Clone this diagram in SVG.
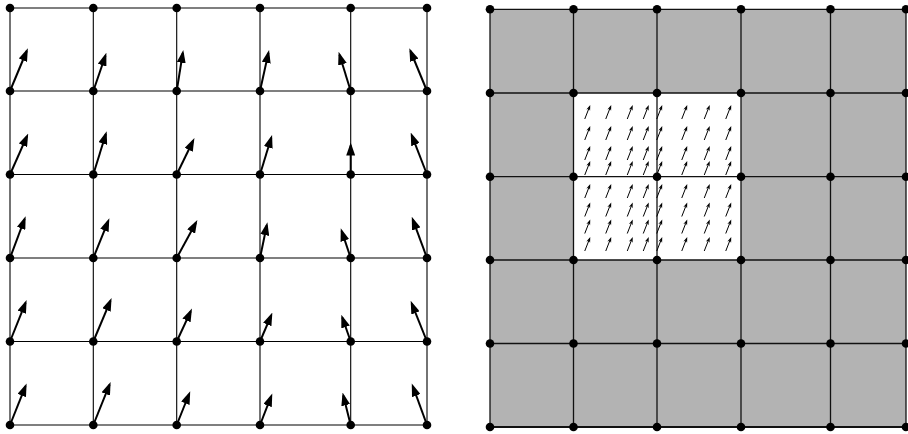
<svg xmlns="http://www.w3.org/2000/svg" xmlns:xlink="http://www.w3.org/1999/xlink" width="908" height="434" viewBox="0 0 908 434">
<style>
.gl{stroke:#000;stroke-width:1.1;fill:none}
.gr{stroke:#111;stroke-width:1.3;fill:none}
.nd{fill:#000}
.ar{stroke:#000;stroke-width:2;fill:none;marker-end:url(#ah)}
.sl{stroke:#000;stroke-width:1;fill:none}
</style>
<defs>
<marker id="ah" markerUnits="userSpaceOnUse" markerWidth="13" markerHeight="9" refX="10" refY="4.5" orient="auto">
<path d="M0,0 L13,4.5 L0,9 z" fill="#000"/>
</marker>
<g id="sa">
<line class="sl" x1="-2.75" y1="7" x2="1.29" y2="-3.28"/>
<path d="M2.75,-7 L2.6,-1.15 L1.29,-3.28 L-1.12,-2.61 z" fill="#000"/>
</g>
<circle id="dot" r="4.3" class="nd"/>
</defs>
<rect width="908" height="434" fill="#fff"/>

<!-- Right panel background -->
<rect x="490" y="9.3" width="416" height="417.7" fill="#b3b3b3"/>
<rect x="573.5" y="93" width="167.5" height="167" fill="#fff"/>

<g id="connectors">
<g id="left-grid">
<line class="gl" x1="10" y1="8" x2="10" y2="425"/>
<line class="gl" x1="93.3" y1="8" x2="93.3" y2="425"/>
<line class="gl" x1="176.7" y1="8" x2="176.7" y2="425"/>
<line class="gl" x1="260" y1="8" x2="260" y2="425"/>
<line class="gl" x1="350.7" y1="8" x2="350.7" y2="425"/>
<line class="gl" x1="427" y1="8" x2="427" y2="425"/>
<line class="gl" x1="10" y1="8" x2="427" y2="8"/>
<line class="gl" x1="10" y1="91" x2="427" y2="91"/>
<line class="gl" x1="10" y1="174.5" x2="427" y2="174.5"/>
<line class="gl" x1="10" y1="258" x2="427" y2="258"/>
<line class="gl" x1="10" y1="341.5" x2="427" y2="341.5"/>
<line class="gl" x1="10" y1="425" x2="427" y2="425"/>
</g>
<g id="right-grid">
<line class="gr" x1="490" y1="9.3" x2="490" y2="427"/>
<line class="gr" x1="573.5" y1="9.3" x2="573.5" y2="427"/>
<line class="gr" x1="657" y1="9.3" x2="657" y2="427"/>
<line class="gr" x1="741" y1="9.3" x2="741" y2="427"/>
<line class="gr" x1="830.5" y1="9.3" x2="830.5" y2="427"/>
<line class="gr" x1="906" y1="9.3" x2="906" y2="427"/>
<line class="gr" x1="490" y1="9.3" x2="906" y2="9.3"/>
<line class="gr" x1="490" y1="93" x2="906" y2="93"/>
<line class="gr" x1="490" y1="176.7" x2="906" y2="176.7"/>
<line class="gr" x1="490" y1="260" x2="906" y2="260"/>
<line class="gr" x1="490" y1="343.5" x2="906" y2="343.5"/>
<line class="gr" x1="490" y1="427" x2="906" y2="427" style="stroke-width:2"/>
</g>
</g>

<g id="vectors-left">
<line class="ar" x1="10" y1="91" x2="26.7" y2="51"/>
<line class="ar" x1="93.3" y1="91" x2="105.4" y2="55.7"/>
<line class="ar" x1="176.7" y1="91" x2="182.8" y2="52.9"/>
<line class="ar" x1="260" y1="91" x2="268.4" y2="52.9"/>
<line class="ar" x1="350.7" y1="91" x2="339.5" y2="54.7"/>
<line class="ar" x1="427" y1="91" x2="410.5" y2="51"/>

<line class="ar" x1="10" y1="174.5" x2="27" y2="136.2"/>
<line class="ar" x1="93.3" y1="174.5" x2="105.8" y2="134"/>
<line class="ar" x1="176.7" y1="174.5" x2="193.1" y2="140.8"/>
<line class="ar" x1="260" y1="174.5" x2="271.2" y2="137.8"/>
<line class="ar" x1="350.7" y1="174.5" x2="350.7" y2="145.5"/>
<line class="ar" x1="427" y1="174.5" x2="411.8" y2="135.3"/>

<line class="ar" x1="10" y1="258" x2="24.6" y2="219"/>
<line class="ar" x1="93.3" y1="258" x2="108.2" y2="221.1"/>
<line class="ar" x1="176.7" y1="258" x2="195.9" y2="222.7"/>
<line class="ar" x1="260" y1="258" x2="266.8" y2="225.2"/>
<line class="ar" x1="350.7" y1="258" x2="341.7" y2="231"/>
<line class="ar" x1="427" y1="258" x2="412.8" y2="219.6"/>

<line class="ar" x1="10" y1="341.5" x2="25.5" y2="302.9"/>
<line class="ar" x1="93.3" y1="341.5" x2="110.4" y2="300.8"/>
<line class="ar" x1="176.7" y1="341.5" x2="190.7" y2="311.3"/>
<line class="ar" x1="260" y1="341.5" x2="271.2" y2="315.3"/>
<line class="ar" x1="350.7" y1="341.5" x2="342.3" y2="317.5"/>
<line class="ar" x1="427" y1="341.5" x2="411.8" y2="303.6"/>

<line class="ar" x1="10" y1="425" x2="25.5" y2="386.2"/>
<line class="ar" x1="93.3" y1="425" x2="109.5" y2="384.7"/>
<line class="ar" x1="176.7" y1="425" x2="189.1" y2="394"/>
<line class="ar" x1="260" y1="425" x2="271.2" y2="396.2"/>
<line class="ar" x1="350.7" y1="425" x2="343.3" y2="395.5"/>
<line class="ar" x1="427" y1="425" x2="412.8" y2="386.2"/>
</g>

<g id="vectors-right">
<use href="#sa" x="587.5" y="112"/><use href="#sa" x="608.5" y="112"/><use href="#sa" x="630" y="112"/><use href="#sa" x="646" y="112"/><use href="#sa" x="659.5" y="112"/><use href="#sa" x="684.5" y="112"/><use href="#sa" x="707" y="112"/><use href="#sa" x="728.5" y="112"/>
<use href="#sa" x="587.5" y="133"/><use href="#sa" x="608.5" y="133"/><use href="#sa" x="630" y="133"/><use href="#sa" x="646" y="133"/><use href="#sa" x="659.5" y="133"/><use href="#sa" x="684.5" y="133"/><use href="#sa" x="707" y="133"/><use href="#sa" x="728.5" y="133"/>
<use href="#sa" x="587.5" y="153"/><use href="#sa" x="608.5" y="153"/><use href="#sa" x="630" y="153"/><use href="#sa" x="646" y="153"/><use href="#sa" x="659.5" y="153"/><use href="#sa" x="684.5" y="153"/><use href="#sa" x="707" y="153"/><use href="#sa" x="728.5" y="153"/>
<use href="#sa" x="587.5" y="168"/><use href="#sa" x="608.5" y="168"/><use href="#sa" x="630" y="168"/><use href="#sa" x="646" y="168"/><use href="#sa" x="659.5" y="168"/><use href="#sa" x="684.5" y="168"/><use href="#sa" x="707" y="168"/><use href="#sa" x="728.5" y="168"/>
<use href="#sa" x="587.5" y="191"/><use href="#sa" x="608.5" y="191"/><use href="#sa" x="630" y="191"/><use href="#sa" x="646" y="191"/><use href="#sa" x="659.5" y="191"/><use href="#sa" x="684.5" y="191"/><use href="#sa" x="707" y="191"/><use href="#sa" x="728.5" y="191"/>
<use href="#sa" x="587.5" y="209.5"/><use href="#sa" x="608.5" y="209.5"/><use href="#sa" x="630" y="209.5"/><use href="#sa" x="646" y="209.5"/><use href="#sa" x="659.5" y="209.5"/><use href="#sa" x="684.5" y="209.5"/><use href="#sa" x="707" y="209.5"/><use href="#sa" x="728.5" y="209.5"/>
<use href="#sa" x="587.5" y="226.5"/><use href="#sa" x="608.5" y="226.5"/><use href="#sa" x="630" y="226.5"/><use href="#sa" x="646" y="226.5"/><use href="#sa" x="659.5" y="226.5"/><use href="#sa" x="684.5" y="226.5"/><use href="#sa" x="707" y="226.5"/><use href="#sa" x="728.5" y="226.5"/>
<use href="#sa" x="587.5" y="244"/><use href="#sa" x="608.5" y="244"/><use href="#sa" x="630" y="244"/><use href="#sa" x="646" y="244"/><use href="#sa" x="659.5" y="244"/><use href="#sa" x="684.5" y="244"/><use href="#sa" x="707" y="244"/><use href="#sa" x="728.5" y="244"/>
</g>

<g id="nodes-left">
<g id="L00"><use href="#dot" x="10" y="8"/></g><g id="L01"><use href="#dot" x="93.3" y="8"/></g><g id="L02"><use href="#dot" x="176.7" y="8"/></g><g id="L03"><use href="#dot" x="260" y="8"/></g><g id="L04"><use href="#dot" x="350.7" y="8"/></g><g id="L05"><use href="#dot" x="427" y="8"/></g>
<g id="L10"><use href="#dot" x="10" y="91"/></g><g id="L11"><use href="#dot" x="93.3" y="91"/></g><g id="L12"><use href="#dot" x="176.7" y="91"/></g><g id="L13"><use href="#dot" x="260" y="91"/></g><g id="L14"><use href="#dot" x="350.7" y="91"/></g><g id="L15"><use href="#dot" x="427" y="91"/></g>
<g id="L20"><use href="#dot" x="10" y="174.5"/></g><g id="L21"><use href="#dot" x="93.3" y="174.5"/></g><g id="L22"><use href="#dot" x="176.7" y="174.5"/></g><g id="L23"><use href="#dot" x="260" y="174.5"/></g><g id="L24"><use href="#dot" x="350.7" y="174.5"/></g><g id="L25"><use href="#dot" x="427" y="174.5"/></g>
<g id="L30"><use href="#dot" x="10" y="258"/></g><g id="L31"><use href="#dot" x="93.3" y="258"/></g><g id="L32"><use href="#dot" x="176.7" y="258"/></g><g id="L33"><use href="#dot" x="260" y="258"/></g><g id="L34"><use href="#dot" x="350.7" y="258"/></g><g id="L35"><use href="#dot" x="427" y="258"/></g>
<g id="L40"><use href="#dot" x="10" y="341.5"/></g><g id="L41"><use href="#dot" x="93.3" y="341.5"/></g><g id="L42"><use href="#dot" x="176.7" y="341.5"/></g><g id="L43"><use href="#dot" x="260" y="341.5"/></g><g id="L44"><use href="#dot" x="350.7" y="341.5"/></g><g id="L45"><use href="#dot" x="427" y="341.5"/></g>
<g id="L50"><use href="#dot" x="10" y="425"/></g><g id="L51"><use href="#dot" x="93.3" y="425"/></g><g id="L52"><use href="#dot" x="176.7" y="425"/></g><g id="L53"><use href="#dot" x="260" y="425"/></g><g id="L54"><use href="#dot" x="350.7" y="425"/></g><g id="L55"><use href="#dot" x="427" y="425"/></g>
</g>

<g id="nodes-right">
<g id="R00"><use href="#dot" x="490" y="9.3"/></g><g id="R01"><use href="#dot" x="573.5" y="9.3"/></g><g id="R02"><use href="#dot" x="657" y="9.3"/></g><g id="R03"><use href="#dot" x="741" y="9.3"/></g><g id="R04"><use href="#dot" x="830.5" y="9.3"/></g><g id="R05"><use href="#dot" x="906" y="9.3"/></g>
<g id="R10"><use href="#dot" x="490" y="93"/></g><g id="R11"><use href="#dot" x="573.5" y="93"/></g><g id="R12"><use href="#dot" x="657" y="93"/></g><g id="R13"><use href="#dot" x="741" y="93"/></g><g id="R14"><use href="#dot" x="830.5" y="93"/></g><g id="R15"><use href="#dot" x="906" y="93"/></g>
<g id="R20"><use href="#dot" x="490" y="176.7"/></g><g id="R21"><use href="#dot" x="573.5" y="176.7"/></g><g id="R22"><use href="#dot" x="657" y="176.7"/></g><g id="R23"><use href="#dot" x="741" y="176.7"/></g><g id="R24"><use href="#dot" x="830.5" y="176.7"/></g><g id="R25"><use href="#dot" x="906" y="176.7"/></g>
<g id="R30"><use href="#dot" x="490" y="260"/></g><g id="R31"><use href="#dot" x="573.5" y="260"/></g><g id="R32"><use href="#dot" x="657" y="260"/></g><g id="R33"><use href="#dot" x="741" y="260"/></g><g id="R34"><use href="#dot" x="830.5" y="260"/></g><g id="R35"><use href="#dot" x="906" y="260"/></g>
<g id="R40"><use href="#dot" x="490" y="343.5"/></g><g id="R41"><use href="#dot" x="573.5" y="343.5"/></g><g id="R42"><use href="#dot" x="657" y="343.5"/></g><g id="R43"><use href="#dot" x="741" y="343.5"/></g><g id="R44"><use href="#dot" x="830.5" y="343.5"/></g><g id="R45"><use href="#dot" x="906" y="343.5"/></g>
<g id="R50"><use href="#dot" x="490" y="427"/></g><g id="R51"><use href="#dot" x="573.5" y="427"/></g><g id="R52"><use href="#dot" x="657" y="427"/></g><g id="R53"><use href="#dot" x="741" y="427"/></g><g id="R54"><use href="#dot" x="830.5" y="427"/></g><g id="R55"><use href="#dot" x="906" y="427"/></g>
</g>
</svg>
